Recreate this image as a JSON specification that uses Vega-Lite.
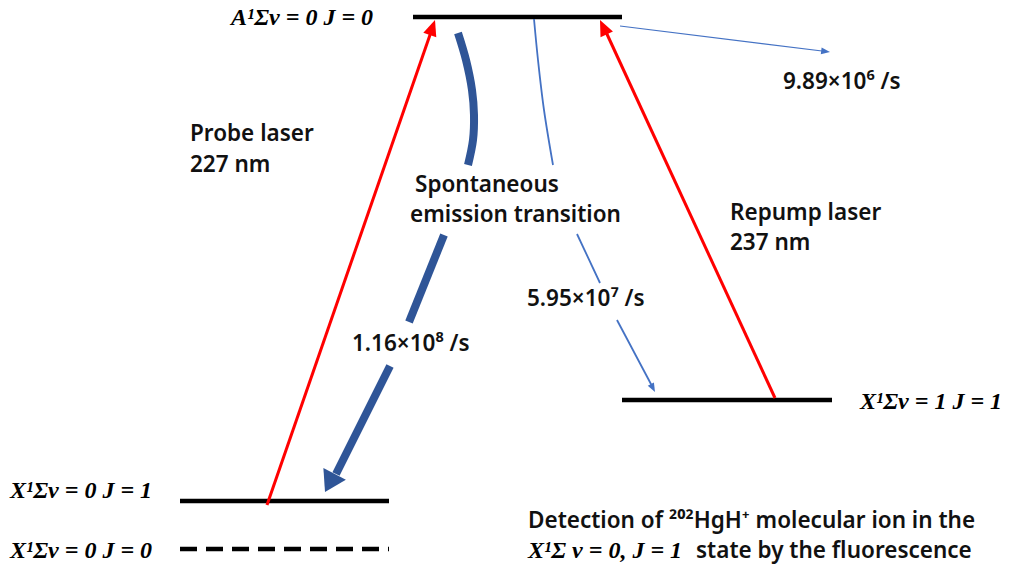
{
  "$schema": "https://vega.github.io/schema/vega-lite/v6.json",
  "width": 1015,
  "height": 566,
  "autosize": {"type": "fit", "contains": "padding"},
  "padding": 0,
  "background": "white",
  "config": {"view": {"stroke": null}},
  "datasets": {
    "levels": [
      {"state": "A v0 J0", "x1": 413, "x2": 622, "y": 17},
      {"state": "X v0 J1", "x1": 180, "x2": 389, "y": 501},
      {"state": "X v1 J1", "x1": 622, "x2": 832, "y": 400},
      {"state": "X v0 J0", "x1": 180, "x2": 389, "y": 549}
    ],
    "paths": [
      {"arrow": "probe", "seg": "p", "ord": 1, "x": 267, "y": 505},
      {"arrow": "probe", "seg": "p", "ord": 2, "x": 431, "y": 32},
      {"arrow": "repump", "seg": "r", "ord": 1, "x": 775, "y": 398},
      {"arrow": "repump", "seg": "r", "ord": 2, "x": 606, "y": 32},
      {"arrow": "emission", "seg": "e1", "ord": 1, "x": 458, "y": 33},
      {"arrow": "emission", "seg": "e1", "ord": 2, "x": 466, "y": 60},
      {"arrow": "emission", "seg": "e1", "ord": 3, "x": 472, "y": 90},
      {"arrow": "emission", "seg": "e1", "ord": 4, "x": 474, "y": 115},
      {"arrow": "emission", "seg": "e1", "ord": 5, "x": 473, "y": 140},
      {"arrow": "emission", "seg": "e1", "ord": 6, "x": 468, "y": 165},
      {"arrow": "emission", "seg": "e2", "ord": 1, "x": 444, "y": 235},
      {"arrow": "emission", "seg": "e2", "ord": 2, "x": 409, "y": 322},
      {"arrow": "emission", "seg": "e3", "ord": 1, "x": 390, "y": 366},
      {"arrow": "emission", "seg": "e3", "ord": 2, "x": 336, "y": 474},
      {"arrow": "decay1", "seg": "d1", "ord": 1, "x": 534, "y": 19},
      {"arrow": "decay1", "seg": "d1", "ord": 2, "x": 538, "y": 60},
      {"arrow": "decay1", "seg": "d1", "ord": 3, "x": 544, "y": 110},
      {"arrow": "decay1", "seg": "d1", "ord": 4, "x": 553, "y": 165},
      {"arrow": "decay1", "seg": "d2", "ord": 1, "x": 577, "y": 234},
      {"arrow": "decay1", "seg": "d2", "ord": 2, "x": 600, "y": 283},
      {"arrow": "decay1", "seg": "d3", "ord": 1, "x": 617, "y": 320},
      {"arrow": "decay1", "seg": "d3", "ord": 2, "x": 652, "y": 386},
      {"arrow": "decay2", "seg": "d4", "ord": 1, "x": 620, "y": 26},
      {"arrow": "decay2", "seg": "d4", "ord": 2, "x": 822, "y": 51}
    ],
    "heads": [
      {"arrow": "probe", "x": 435, "y": 20, "angle": 19},
      {"arrow": "repump", "x": 600, "y": 20, "angle": 335},
      {"arrow": "emission", "x": 325, "y": 492, "angle": 208},
      {"arrow": "decay1", "x": 655, "y": 392, "angle": 152},
      {"arrow": "decay2", "x": 830, "y": 52, "angle": 97}
    ],
    "labels": [
      {"group": "state", "text": "A¹Σv = 0 J = 0", "x": 231, "y": 18},
      {"group": "state", "text": "X¹Σv = 0 J = 1", "x": 10, "y": 491},
      {"group": "state", "text": "X¹Σv = 0 J = 0", "x": 10, "y": 551},
      {"group": "state", "text": "X¹Σv = 1 J = 1", "x": 860, "y": 402},
      {"group": "state", "text": "X¹Σ v = 0, J = 1", "x": 528, "y": 551},
      {"group": "note", "text": "Probe laser", "x": 190, "y": 134},
      {"group": "note", "text": "227 nm", "x": 190, "y": 165},
      {"group": "note", "text": "Spontaneous", "x": 415, "y": 185},
      {"group": "note", "text": "emission transition", "x": 410, "y": 215},
      {"group": "note", "text": "Repump laser", "x": 730, "y": 213},
      {"group": "note", "text": "237 nm", "x": 730, "y": 243},
      {"group": "note", "text": "5.95×10⁷ /s", "x": 527, "y": 299},
      {"group": "note", "text": "1.16×10⁸ /s", "x": 352, "y": 344},
      {"group": "note", "text": "9.89×10⁶ /s", "x": 783, "y": 82},
      {"group": "note", "text": "Detection of ²⁰²HgH⁺ molecular ion in the", "x": 528, "y": 521},
      {"group": "note", "text": "state by the fluorescence", "x": 696, "y": 551}
    ]
  },
  "layer": [
    {
      "data": {"name": "levels"},
      "transform": [{"filter": "datum.state != 'X v0 J0'"}],
      "mark": {"type": "rule", "color": "black", "strokeWidth": 4.5},
      "encoding": {
        "x": {"field": "x1", "type": "quantitative", "scale": {"domain": [0, 1015], "nice": false, "zero": false}, "axis": null},
        "x2": {"field": "x2"},
        "y": {"field": "y", "type": "quantitative", "scale": {"domain": [0, 566], "nice": false, "zero": false, "reverse": true}, "axis": null}
      }
    },
    {
      "data": {"name": "levels"},
      "transform": [{"filter": "datum.state == 'X v0 J0'"}],
      "mark": {"type": "rule", "color": "black", "strokeWidth": 4.5, "strokeDash": [17, 9]},
      "encoding": {
        "x": {"field": "x1", "type": "quantitative"},
        "x2": {"field": "x2"},
        "y": {"field": "y", "type": "quantitative"}
      }
    },
    {
      "data": {"name": "paths"},
      "transform": [{"filter": "datum.arrow == 'probe' || datum.arrow == 'repump'"}],
      "mark": {"type": "line", "strokeCap": "butt", "color": "#ff0000", "strokeWidth": 3},
      "encoding": {
        "x": {"field": "x", "type": "quantitative"},
        "y": {"field": "y", "type": "quantitative"},
        "detail": {"field": "seg"},
        "order": {"field": "ord"}
      }
    },
    {
      "data": {"name": "paths"},
      "transform": [{"filter": "datum.arrow == 'emission'"}],
      "mark": {"type": "line", "interpolate": "catmull-rom", "strokeCap": "butt", "color": "#2f5597", "strokeWidth": 8},
      "encoding": {
        "x": {"field": "x", "type": "quantitative"},
        "y": {"field": "y", "type": "quantitative"},
        "detail": {"field": "seg"},
        "order": {"field": "ord"}
      }
    },
    {
      "data": {"name": "paths"},
      "transform": [{"filter": "datum.arrow == 'decay1'"}],
      "mark": {"type": "line", "interpolate": "catmull-rom", "strokeCap": "butt", "color": "#4472c4", "strokeWidth": 1.8},
      "encoding": {
        "x": {"field": "x", "type": "quantitative"},
        "y": {"field": "y", "type": "quantitative"},
        "detail": {"field": "seg"},
        "order": {"field": "ord"}
      }
    },
    {
      "data": {"name": "paths"},
      "transform": [{"filter": "datum.arrow == 'decay2'"}],
      "mark": {"type": "line", "strokeCap": "butt", "color": "#4472c4", "strokeWidth": 1.2},
      "encoding": {
        "x": {"field": "x", "type": "quantitative"},
        "y": {"field": "y", "type": "quantitative"},
        "detail": {"field": "seg"},
        "order": {"field": "ord"}
      }
    },
    {
      "data": {"name": "heads"},
      "transform": [{"filter": "datum.arrow == 'probe' || datum.arrow == 'repump'"}],
      "mark": {"type": "point", "filled": true, "opacity": 1, "strokeWidth": 0, "color": "#ff0000", "shape": "M0,0L-0.6,1.4L0.6,1.4Z", "size": 520},
      "encoding": {
        "x": {"field": "x", "type": "quantitative"},
        "y": {"field": "y", "type": "quantitative"},
        "angle": {"field": "angle", "type": "quantitative", "scale": {"domain": [0, 360], "range": [0, 360]}}
      }
    },
    {
      "data": {"name": "heads"},
      "transform": [{"filter": "datum.arrow == 'emission'"}],
      "mark": {"type": "point", "filled": true, "opacity": 1, "strokeWidth": 0, "color": "#2f5597", "shape": "M0,0L-0.9,1.45L0.9,1.45Z", "size": 800},
      "encoding": {
        "x": {"field": "x", "type": "quantitative"},
        "y": {"field": "y", "type": "quantitative"},
        "angle": {"field": "angle", "type": "quantitative", "scale": {"domain": [0, 360], "range": [0, 360]}}
      }
    },
    {
      "data": {"name": "heads"},
      "transform": [{"filter": "datum.arrow == 'decay1' || datum.arrow == 'decay2'"}],
      "mark": {"type": "point", "filled": true, "opacity": 1, "strokeWidth": 0, "color": "#4472c4", "shape": "M0,0L-0.55,1.4L0.55,1.4Z", "size": 160},
      "encoding": {
        "x": {"field": "x", "type": "quantitative"},
        "y": {"field": "y", "type": "quantitative"},
        "angle": {"field": "angle", "type": "quantitative", "scale": {"domain": [0, 360], "range": [0, 360]}}
      }
    },
    {
      "data": {"name": "labels"},
      "transform": [{"filter": "datum.group == 'state'"}],
      "mark": {"type": "text", "align": "left", "baseline": "middle", "font": "Liberation Serif", "fontSize": 24, "fontWeight": "bold", "fontStyle": "italic", "color": "black"},
      "encoding": {
        "x": {"field": "x", "type": "quantitative"},
        "y": {"field": "y", "type": "quantitative"},
        "text": {"field": "text"}
      }
    },
    {
      "data": {"name": "labels"},
      "transform": [{"filter": "datum.group == 'note'"}],
      "mark": {"type": "text", "align": "left", "baseline": "middle", "font": "Noto Sans", "fontSize": 22.5, "fontWeight": 600, "color": "#111111"},
      "encoding": {
        "x": {"field": "x", "type": "quantitative"},
        "y": {"field": "y", "type": "quantitative"},
        "text": {"field": "text"}
      }
    }
  ]
}
